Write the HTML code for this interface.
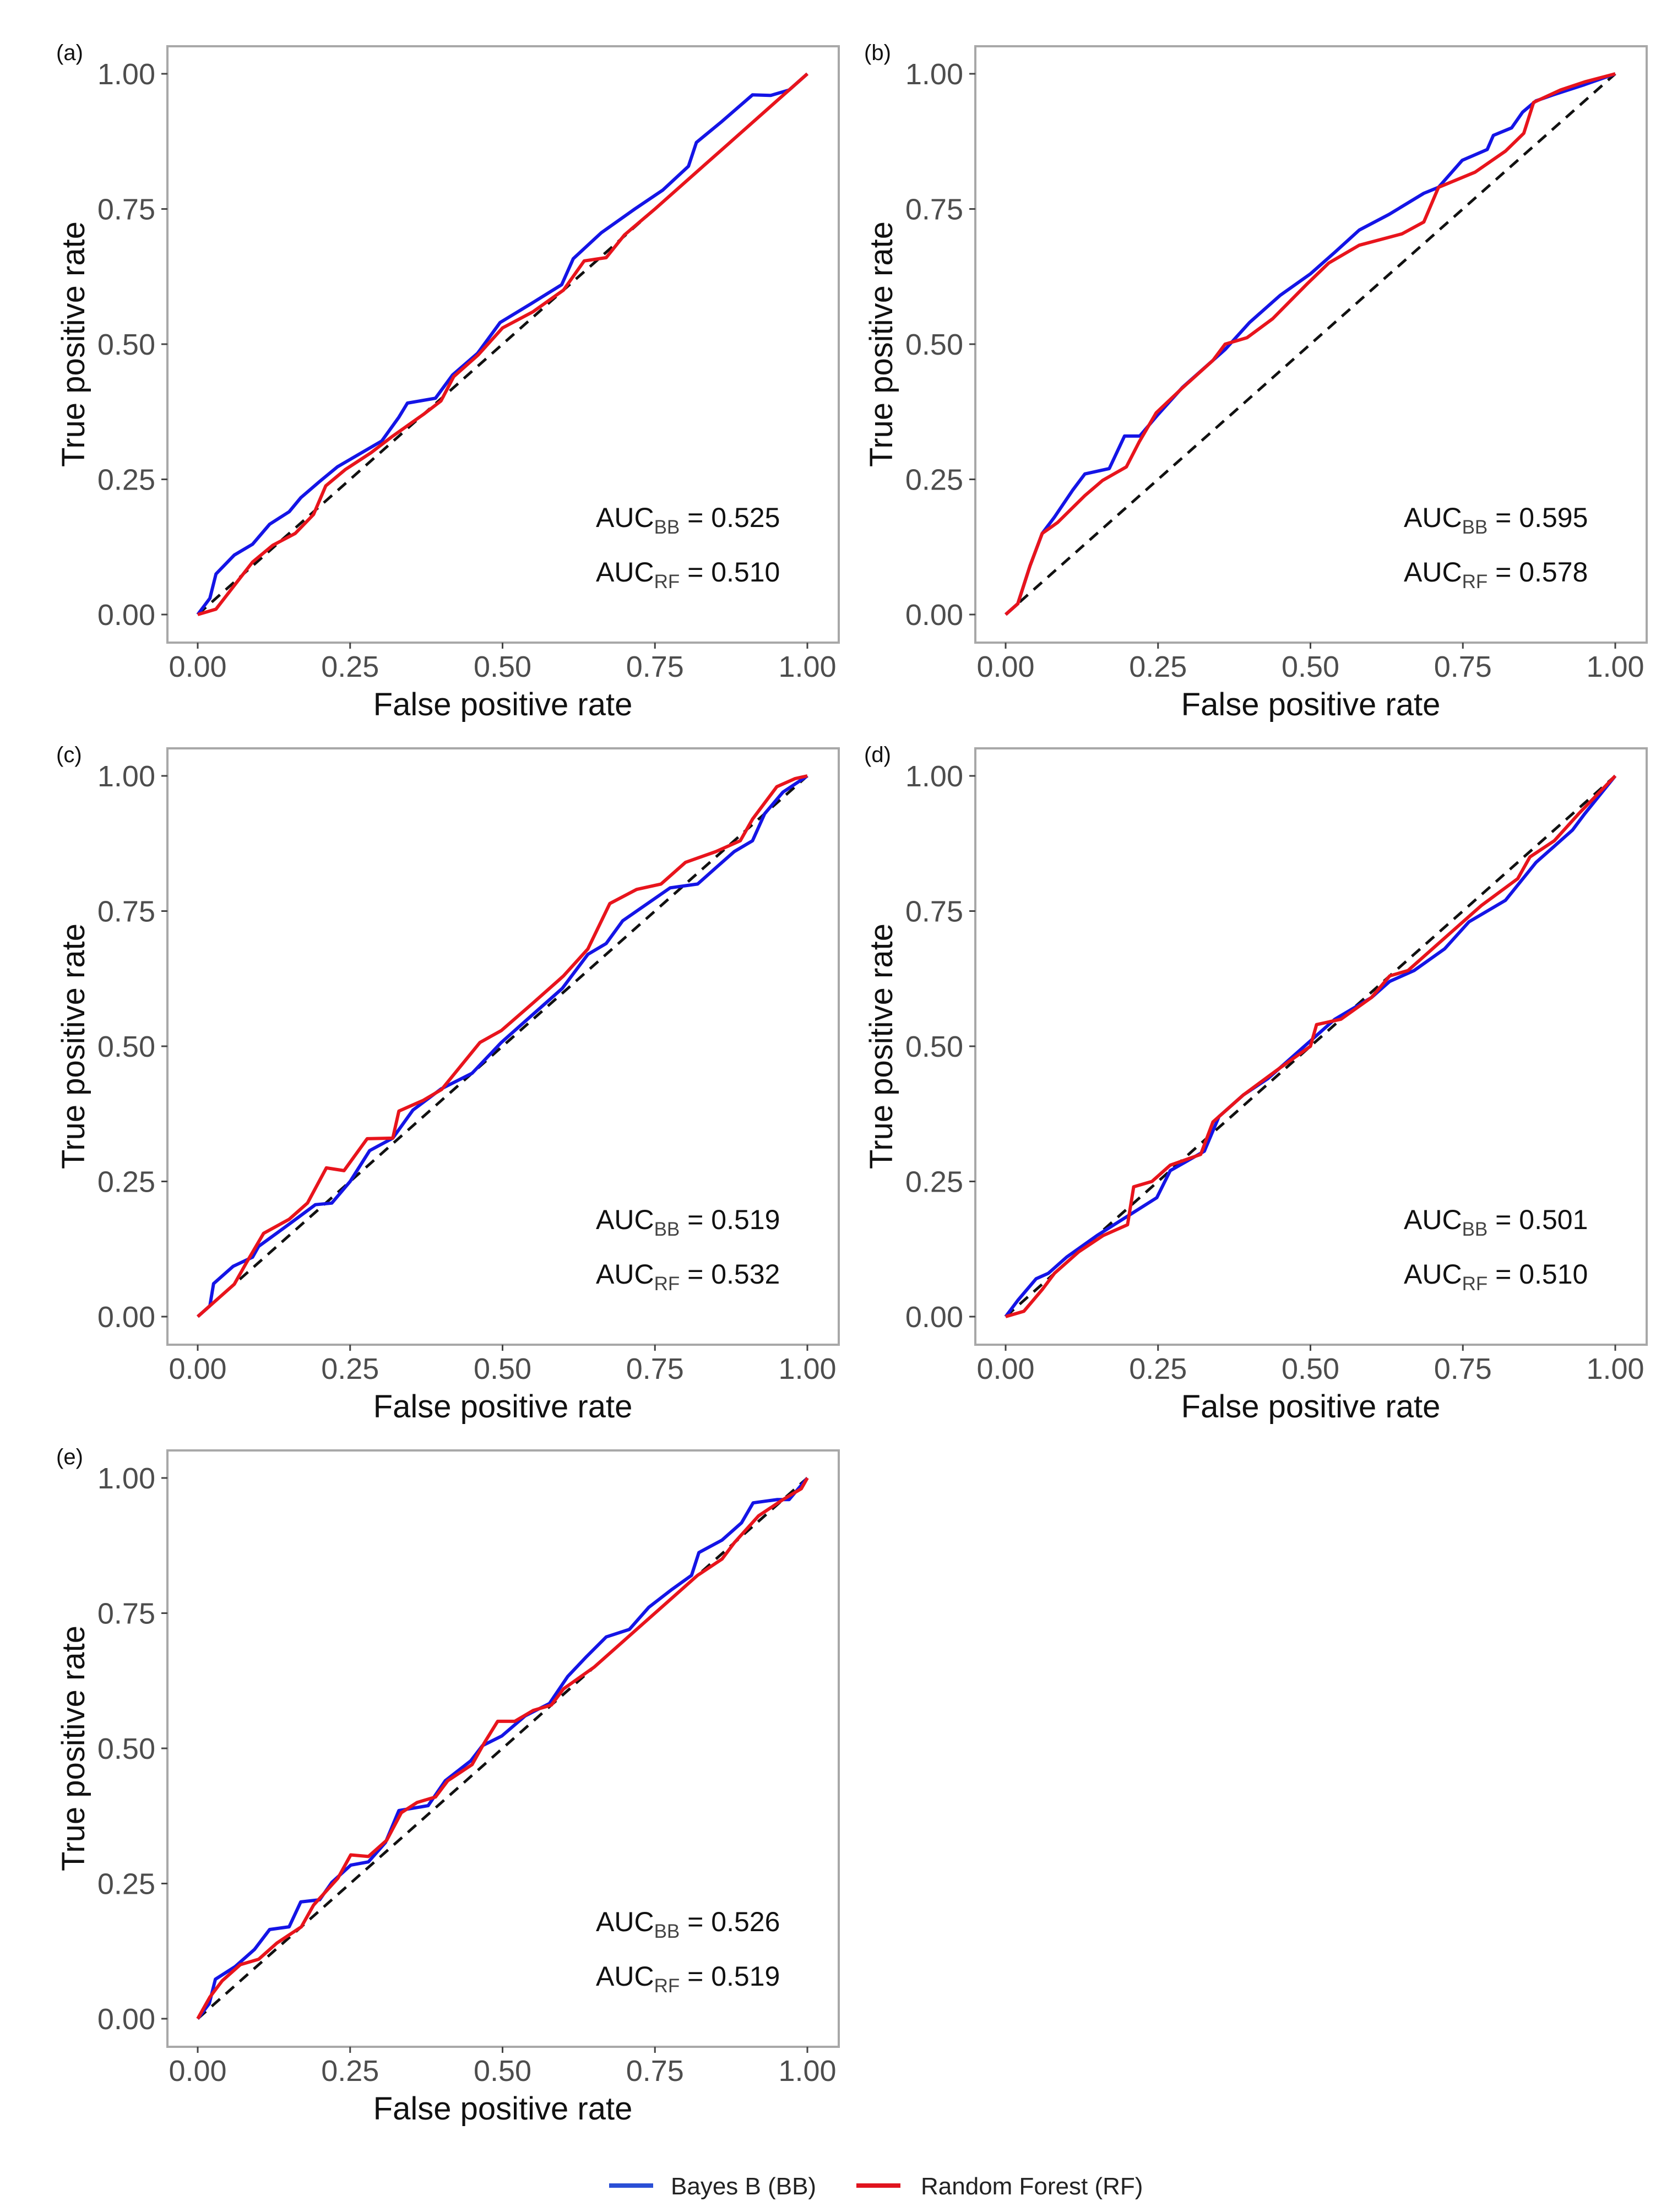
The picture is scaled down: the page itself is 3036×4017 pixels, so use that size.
<!DOCTYPE html>
<html><head><meta charset="utf-8">
<style>
html,body{margin:0;padding:0;background:#fff;}
svg{display:block;font-family:"Liberation Sans",Arial,sans-serif;}
</style></head>
<body>
<svg id="fig" width="3036" height="4017" viewBox="0 0 3036 4017" xmlns="http://www.w3.org/2000/svg">
<rect x="0" y="0" width="3036" height="4017" fill="#fff"/>
<g id="panels"></g>
<g>
  <line x1="1106" y1="3969" x2="1186" y2="3969" stroke="#2a4fd6" stroke-width="8"/>
  <text x="1218" y="3985" font-size="44" fill="#222">Bayes B (BB)</text>
  <line x1="1555" y1="3969" x2="1635" y2="3969" stroke="#e0141e" stroke-width="8"/>
  <text x="1672" y="3985" font-size="44" fill="#222">Random Forest (RF)</text>
</g>
</svg>
<script>
// ---- data ----
const panelLetters = ["(a)","(b)","(c)","(d)","(e)"];
const aucBB = ["0.525","0.595","0.519","0.501","0.526"];
const aucRF = ["0.510","0.578","0.532","0.510","0.519"];
const tickValues = [0,0.25,0.5,0.75,1];
const tickLabels = ["0.00","0.25","0.50","0.75","1.00"];

const bbA = [[0,0],[0.02,0.03],[0.03,0.075],[0.06,0.11],[0.09,0.13],[0.118,0.167],[0.15,0.19],[0.169,0.216],[0.2,0.246],[0.229,0.273],[0.302,0.321],[0.33,0.365],[0.344,0.391],[0.39,0.40],[0.418,0.443],[0.459,0.483],[0.496,0.54],[0.547,0.575],[0.597,0.61],[0.616,0.658],[0.662,0.706],[0.717,0.75],[0.763,0.785],[0.805,0.829],[0.818,0.873],[0.86,0.912],[0.91,0.961],[0.94,0.96],[0.97,0.97],[1,1]];
const rfA = [[0,0],[0.03,0.01],[0.063,0.058],[0.09,0.097],[0.123,0.128],[0.16,0.15],[0.19,0.185],[0.21,0.238],[0.242,0.268],[0.284,0.299],[0.32,0.33],[0.37,0.37],[0.399,0.395],[0.42,0.44],[0.46,0.48],[0.5,0.53],[0.55,0.56],[0.6,0.60],[0.634,0.654],[0.67,0.66],[0.70,0.702],[0.75,0.75],[0.8,0.80],[0.83,0.83],[0.87,0.87],[0.9,0.9],[0.94,0.94],[0.98,0.98],[1,1]];
const bbB = [[0,0],[0.02,0.02],[0.04,0.09],[0.06,0.15],[0.08,0.18],[0.11,0.23],[0.13,0.26],[0.17,0.27],[0.195,0.33],[0.22,0.33],[0.25,0.37],[0.29,0.42],[0.36,0.49],[0.40,0.54],[0.45,0.59],[0.50,0.63],[0.54,0.67],[0.58,0.711],[0.629,0.74],[0.686,0.779],[0.71,0.79],[0.749,0.84],[0.79,0.86],[0.80,0.886],[0.83,0.90],[0.848,0.929],[0.87,0.95],[0.898,0.961],[0.95,0.98],[1,1]];
const rfB = [[0,0],[0.02,0.02],[0.04,0.09],[0.06,0.15],[0.085,0.17],[0.13,0.22],[0.159,0.248],[0.198,0.273],[0.219,0.319],[0.247,0.373],[0.29,0.419],[0.34,0.47],[0.36,0.50],[0.396,0.512],[0.438,0.547],[0.495,0.612],[0.53,0.65],[0.58,0.683],[0.65,0.704],[0.686,0.726],[0.71,0.79],[0.77,0.818],[0.82,0.857],[0.85,0.89],[0.866,0.947],[0.91,0.97],[0.95,0.985],[1,1]];
const bbC = [[0,0],[0.02,0.02],[0.026,0.061],[0.058,0.093],[0.09,0.11],[0.10,0.13],[0.15,0.171],[0.193,0.207],[0.22,0.21],[0.25,0.25],[0.282,0.307],[0.32,0.33],[0.353,0.382],[0.399,0.421],[0.45,0.45],[0.498,0.507],[0.548,0.557],[0.598,0.607],[0.64,0.67],[0.67,0.69],[0.697,0.732],[0.775,0.793],[0.82,0.80],[0.85,0.83],[0.88,0.86],[0.91,0.88],[0.93,0.93],[0.96,0.97],[1,1]];
const rfC = [[0,0],[0.02,0.02],[0.06,0.06],[0.08,0.10],[0.108,0.154],[0.15,0.18],[0.18,0.21],[0.211,0.275],[0.24,0.27],[0.278,0.329],[0.32,0.33],[0.33,0.38],[0.37,0.40],[0.4,0.42],[0.463,0.507],[0.498,0.529],[0.55,0.58],[0.6,0.63],[0.64,0.68],[0.676,0.764],[0.72,0.79],[0.76,0.80],[0.8,0.84],[0.85,0.86],[0.89,0.88],[0.91,0.92],[0.95,0.98],[0.98,0.995],[1,1]];
const bbD = [[0,0],[0.02,0.03],[0.05,0.07],[0.07,0.08],[0.1,0.11],[0.15,0.15],[0.199,0.185],[0.248,0.22],[0.27,0.27],[0.326,0.306],[0.35,0.37],[0.39,0.41],[0.43,0.44],[0.47,0.48],[0.5,0.51],[0.54,0.55],[0.6,0.59],[0.63,0.62],[0.67,0.64],[0.72,0.68],[0.76,0.73],[0.82,0.77],[0.87,0.84],[0.9,0.87],[0.93,0.9],[0.95,0.93],[1,1]];
const rfD = [[0,0],[0.03,0.01],[0.06,0.05],[0.08,0.08],[0.12,0.12],[0.16,0.15],[0.2,0.17],[0.21,0.24],[0.24,0.25],[0.27,0.28],[0.32,0.30],[0.34,0.36],[0.39,0.41],[0.45,0.46],[0.5,0.50],[0.51,0.54],[0.55,0.55],[0.6,0.59],[0.63,0.63],[0.66,0.64],[0.72,0.70],[0.78,0.76],[0.84,0.81],[0.86,0.85],[0.9,0.88],[0.94,0.93],[1,1]];
const bbE = [[0,0],[0.019,0.028],[0.029,0.073],[0.061,0.096],[0.093,0.128],[0.118,0.165],[0.15,0.17],[0.169,0.216],[0.2,0.22],[0.22,0.252],[0.251,0.284],[0.28,0.29],[0.308,0.326],[0.33,0.385],[0.378,0.394],[0.406,0.44],[0.448,0.477],[0.467,0.505],[0.499,0.523],[0.537,0.56],[0.577,0.583],[0.607,0.633],[0.638,0.67],[0.67,0.706],[0.708,0.72],[0.74,0.761],[0.778,0.794],[0.81,0.82],[0.822,0.862],[0.86,0.885],[0.892,0.917],[0.911,0.954],[0.95,0.96],[0.97,0.96],[1,1]];
const rfE = [[0,0],[0.02,0.04],[0.04,0.07],[0.07,0.10],[0.10,0.11],[0.13,0.14],[0.17,0.17],[0.19,0.21],[0.23,0.26],[0.251,0.303],[0.28,0.30],[0.31,0.33],[0.334,0.381],[0.36,0.40],[0.39,0.41],[0.41,0.44],[0.45,0.47],[0.47,0.51],[0.492,0.55],[0.52,0.55],[0.55,0.57],[0.58,0.58],[0.6,0.61],[0.65,0.65],[0.7,0.70],[0.74,0.74],[0.78,0.78],[0.82,0.82],[0.86,0.85],[0.88,0.88],[0.92,0.93],[0.96,0.96],[0.99,0.98],[1,1]];
const seriesBB = [bbA,bbB,bbC,bbD,bbE];
const seriesRF = [rfA,rfB,rfC,rfD,rfE];

// ---- drawing ----
const NS = "http://www.w3.org/2000/svg";
const root = document.getElementById("panels");
function mk(tag, attrs, parent){
  const e = document.createElementNS(NS, tag);
  for (const k in attrs) e.setAttribute(k, attrs[k]);
  parent.appendChild(e);
  return e;
}
const FW = 1219, FH = 1083;
for (let i = 0; i < 5; i++){
  const col = i % 2, row = Math.floor(i / 2);
  const L = 304 + col * 1467, T = 84 + row * 1275;
  const X0 = L + 55, X1 = L + 1162, Y1 = T + 50, Y0 = T + 1032;
  const sx = v => X0 + v * (X1 - X0);
  const sy = v => Y0 - v * (Y0 - Y1);
  const g = mk("g", {}, root);
  
  

  const lab = mk("text", {x: L - 202, y: T + 25, "font-size": 40, fill: "#111"}, g);
  
  
  lab.textContent = panelLetters[i];

  const frame = mk("rect", {x: L, y: T, width: FW, height: FH, fill: "none", stroke: "#a8a8a8", "stroke-width": 4}, g);
  
  

  for (let t = 0; t < tickValues.length; t++){
    const v = tickValues[t];
    const yt = mk("line", {x1: L - 11, x2: L, y1: sy(v), y2: sy(v), stroke: "#444", "stroke-width": 3}, g);
    
    
    const yl = mk("text", {x: L - 22, y: sy(v) + 19, "font-size": 54, fill: "#4d4d4d", "text-anchor": "end"}, g);
    
    
    yl.textContent = tickLabels[t];
    const xt = mk("line", {x1: sx(v), x2: sx(v), y1: T + FH, y2: T + FH + 11, stroke: "#444", "stroke-width": 3}, g);
    
    
    const xl = mk("text", {x: sx(v), y: T + 1145, "font-size": 54, fill: "#4d4d4d", "text-anchor": "middle"}, g);
    
    
    xl.textContent = tickLabels[t];
  }
  const xtitle = mk("text", {x: L + 609, y: T + 1215, "font-size": 58, fill: "#111", "text-anchor": "middle"}, g);
  
  
  xtitle.textContent = "False positive rate";
  const cy = T + 541;
  const ytitle = mk("text", {x: L - 151, y: cy, "font-size": 58, fill: "#111", "text-anchor": "middle", transform: "rotate(-90 " + (L - 151) + " " + cy + ")"}, g);
  
  
  ytitle.textContent = "True positive rate";

  const diag = mk("line", {x1: sx(0), y1: sy(0), x2: sx(1), y2: sy(1), stroke: "#111", "stroke-width": 5, "stroke-dasharray": "20 14"}, g);
  
  

  const toPts = arr => arr.map(p => sx(p[0]).toFixed(1) + "," + sy(p[1]).toFixed(1)).join(" ");
  const bb = mk("polyline", {points: toPts(seriesBB[i]), fill: "none", stroke: "#1414e6", "stroke-width": 6, "stroke-linejoin": "round"}, g);
  
  
  const rf = mk("polyline", {points: toPts(seriesRF[i]), fill: "none", stroke: "#e8141c", "stroke-width": 6, "stroke-linejoin": "round"}, g);
  
  

  const t1 = mk("text", {x: L + 778, y: T + 873, "font-size": 50, fill: "#111"}, g);
  
  
  t1.innerHTML = 'AUC<tspan font-size="35" dy="12" fill="#444">BB</tspan><tspan dy="-12"> = ' + aucBB[i] + '</tspan>';
  const t2 = mk("text", {x: L + 778, y: T + 972, "font-size": 50, fill: "#111"}, g);
  
  
  t2.innerHTML = 'AUC<tspan font-size="35" dy="12" fill="#444">RF</tspan><tspan dy="-12"> = ' + aucRF[i] + '</tspan>';
}
</script>
</body></html>
